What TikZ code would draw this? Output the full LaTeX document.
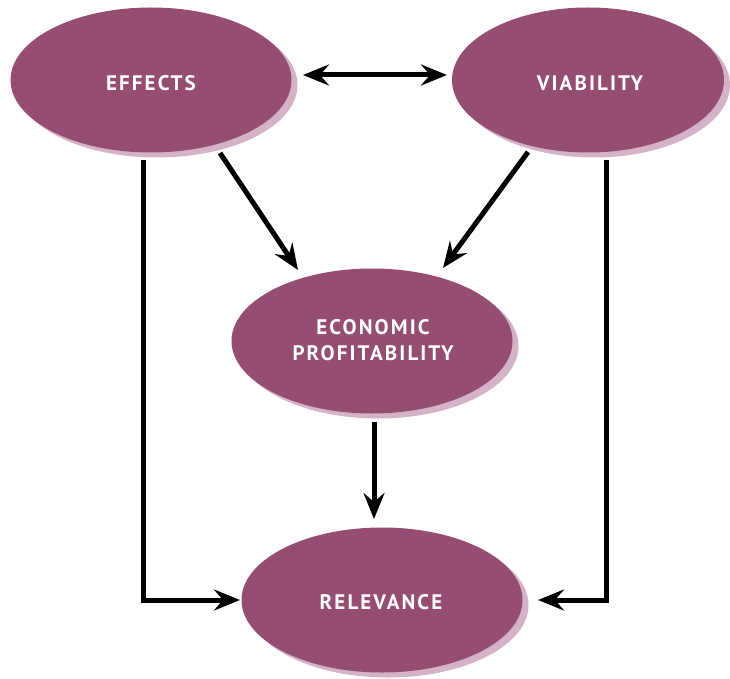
\documentclass[tikz,border=0pt]{standalone}
\usepackage{fontspec}
\setmainfont{PT Sans}
\newfontfamily\lblfont[LetterSpace=10]{PT Sans}
\usetikzlibrary{shapes.geometric,arrows.meta,shadows}
\definecolor{plum}{HTML}{964D72}
\definecolor{plumshadow}{HTML}{D5B3C6}
\begin{document}
\begin{tikzpicture}[x=1pt,y=1pt,
  bubble/.style={ellipse, fill=plum, minimum width=281pt, minimum height=145pt, inner sep=0pt,
    drop shadow={shadow xshift=6pt, shadow yshift=-5pt, fill=plumshadow, opacity=1}},
  lbl/.style={text=white, font=\lblfont\bfseries\fontsize{21}{26}\selectfont, align=center},
  conn/.style={line width=5pt, -{Stealth[length=26pt,width=21pt,inset=9pt]}},
  dconn/.style={line width=5pt, {Stealth[length=26pt,width=21pt,inset=9pt]}-{Stealth[length=26pt,width=21pt,inset=9pt]}}]
\useasboundingbox (0,0) rectangle (730,-679);
\node[bubble] (eff) at (151,-80) {};
\node[bubble, minimum width=272pt] (via) at (588,-80) {};
\node[bubble] (eco) at (372,-341) {};
\node[bubble] (rel) at (382,-600) {};
\node[lbl] (efft) at (151,-83) {EFFECTS};
\node[lbl] (viat) at (590,-83) {VIABILITY};
\node[lbl] (ecot) at (373,-340) {ECONOMIC\\PROFITABILITY};
\node[lbl] (relt) at (381,-602) {RELEVANCE};
\coordinate (dl) at (303,-75);
\coordinate (dr) at (447,-75);
\draw[dconn] (dl) -- (dr);
\coordinate (e1) at (220,-153);
\coordinate (e2) at (298,-270);
\draw[conn] (e1) -- (e2);
\coordinate (v1) at (528,-152);
\coordinate (v2) at (443,-268);
\draw[conn] (v1) -- (v2);
\coordinate (c1) at (374,-422);
\coordinate (c2) at (374,-519);
\draw[conn] (c1) -- (c2);
\coordinate (l1) at (143,-160);
\coordinate (l2) at (240,-600);
\draw[conn] (l1) |- (l2);
\coordinate (r1) at (606,-160);
\coordinate (r2) at (538,-600);
\draw[conn] (r1) |- (r2);
\end{tikzpicture}
\end{document}
